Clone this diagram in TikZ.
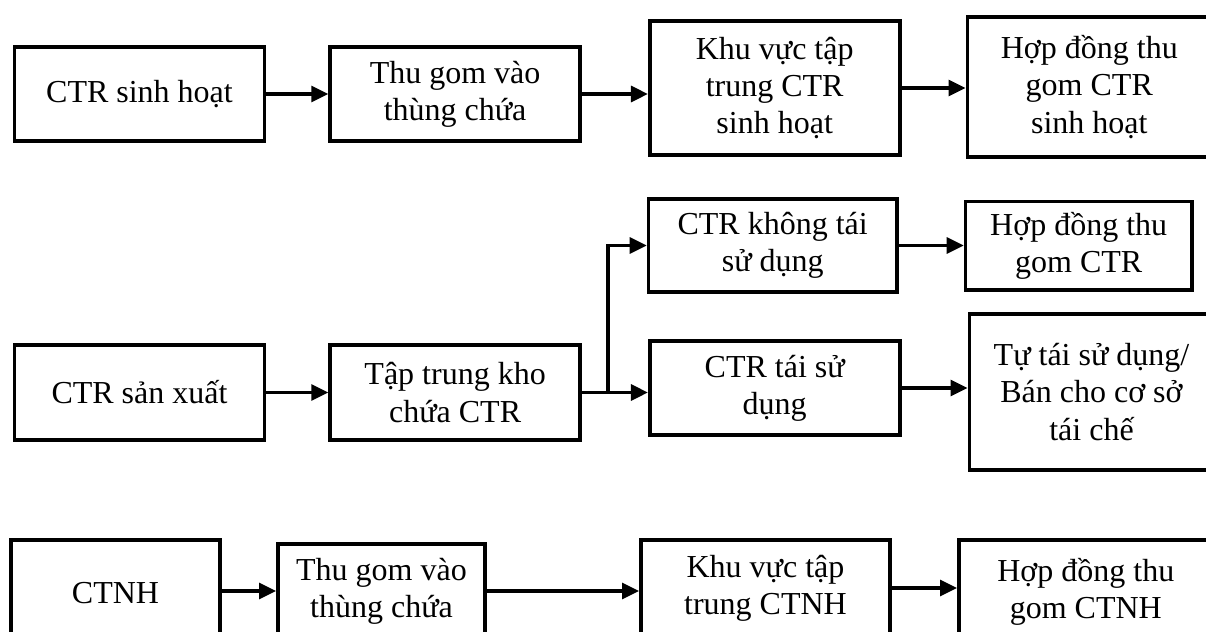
\documentclass[tikz,border=0pt]{standalone}
\usepackage{fontspec}
\setmainfont{Liberation Serif}
\usetikzlibrary{arrows.meta, positioning}

\begin{document}
\begin{tikzpicture}[every node/.style={font=\fontsize{16}{18.6}\selectfont}]
  % Định nghĩa kiểu
  \tikzstyle{box}=[rectangle, draw=black, line width=1.8pt, align=center, inner sep=2pt, minimum width=125pt, minimum height=47.2pt]
  \tikzstyle{arrow}=[line width=1.6pt, -{Triangle[length=8.5pt, width=8pt]}]

  \useasboundingbox (0,0) rectangle (603pt,-316pt);
  \clip (0,0) rectangle (603pt,-316pt);

  % Hàng 1: CTR sinh hoạt
  \node (sh) [box] at (69.75pt,-47pt) {CTR sinh hoạt};
  \node (sh_gom) [box, right=31pt of sh] {Thu gom vào\\thùng chứa};
  \node (sh_khu) [box, right=33pt of sh_gom, yshift=3pt, minimum height=67.2pt] {Khu vực tập\\trung CTR\\sinh hoạt};
  \node (sh_hd) [box, right=32pt of sh_khu, yshift=0.5pt, minimum width=122pt, minimum height=70.2pt] {Hợp đồng thu\\gom CTR\\sinh hoạt};

  % Hàng 2: CTR sản xuất
  \node (sx) [box, minimum height=47.7pt] at (69.75pt,-196.25pt) {CTR sản xuất};
  \node (sx_kho) [box, right=31pt of sx, minimum height=47.7pt] {Tập trung kho\\chứa CTR};
  \node (tai) [box, right=33pt of sx_kho, yshift=2.25pt] {CTR tái sử\\dụng};
  \node (khongtai) [box, above=22.5pt of tai, xshift=-1pt, minimum width=124.2pt, minimum height=46.7pt] {CTR không tái\\sử dụng};
  \node (tai_ban) [box, right=33pt of tai, yshift=-2pt, minimum width=122.2pt, minimum height=78.2pt] {Tự tái sử dụng/\\Bán cho cơ sở\\tái chế};
  \node (khongtai_hd) [box, right=32.5pt of khongtai, minimum width=113.2pt, minimum height=44.2pt] {Hợp đồng thu\\gom CTR};
  \coordinate (tach) at ([xshift=13pt]sx_kho.east);

  % Hàng 3: CTNH
  \node (nh) [box, minimum width=104.7pt, minimum height=53.2pt] at (57.75pt,-296.5pt) {CTNH};
  \node (nh_gom) [box, right=27pt of nh, yshift=1pt, minimum width=103.7pt] {Thu gom vào\\thùng chứa};
  \node (nh_khu) [box, right=76pt of nh_gom, yshift=1.5pt, minimum width=124.7pt, minimum height=48.2pt] {Khu vực tập\\trung CTNH};
  \node (nh_hd) [box, right=32.5pt of nh_khu, yshift=-2pt, minimum width=127pt, minimum height=52.2pt] {Hợp đồng thu\\gom CTNH};

  % Mũi tên
  \draw[arrow] (sh.east) -- (sh.east -| sh_gom.west);
  \draw[arrow] (sh_gom.east) -- (sh_gom.east -| sh_khu.west);
  \draw[arrow] (sh_khu.east) -- (sh_khu.east -| sh_hd.west);

  \draw[arrow] (sx.east) -- (sx.east -| sx_kho.west);
  \draw[arrow] (sx_kho.east) -- (sx_kho.east -| tai.west);
  \draw[arrow] (tach) |- (khongtai.west);
  \draw[arrow] (khongtai.east) -- (khongtai.east -| khongtai_hd.west);
  \draw[arrow] (tai.east) -- (tai.east -| tai_ban.west);

  \draw[arrow] (nh.east |- nh_gom) -- (nh_gom.west);
  \draw[arrow] (nh_gom.east) -- (nh_gom.east -| nh_khu.west);
  \draw[arrow] (nh_khu.east) -- (nh_khu.east -| nh_hd.west);
\end{tikzpicture}
\end{document}
